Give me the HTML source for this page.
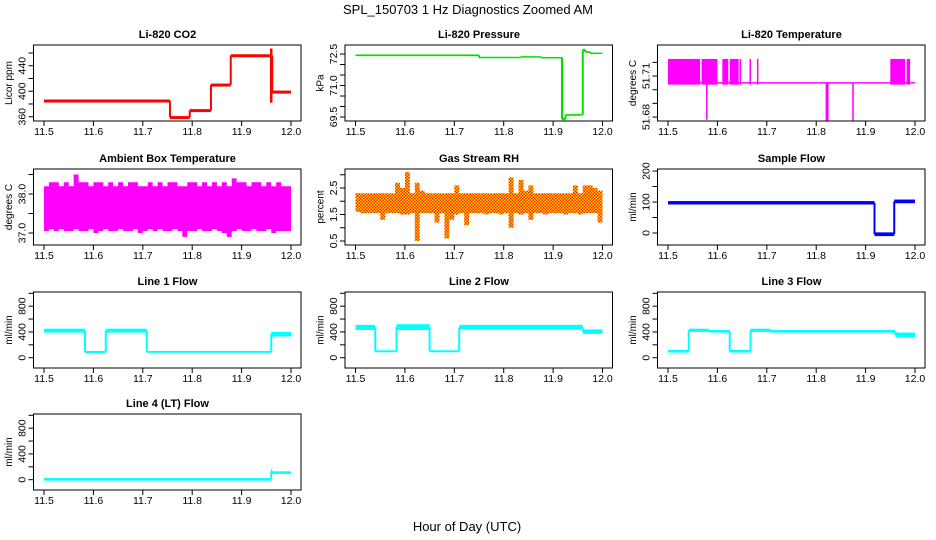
<!DOCTYPE html>
<html><head><meta charset="utf-8"><style>
html,body{margin:0;padding:0;background:#fff;}
svg{display:block;font-family:"Liberation Sans",sans-serif;}
</style></head><body>
<svg id="c" width="936" height="540" viewBox="0 0 936 540" xmlns="http://www.w3.org/2000/svg">
<defs>
<pattern id="rhpat" width="3" height="3" patternUnits="userSpaceOnUse">
<rect width="3" height="3" fill="#ffd800"/><rect x="0" y="0" width="1.5" height="1.5" fill="#ff2000"/><rect x="1.5" y="1.5" width="1.5" height="1.5" fill="#ff2000"/>
</pattern>
</defs>
<text x="468" y="14" text-anchor="middle" font-size="13">SPL_150703  1 Hz Diagnostics Zoomed AM</text>
<text x="467" y="531" text-anchor="middle" font-size="13">Hour of Day (UTC)</text>
</svg>
<script>
// ---- data arrays ----
const xTicks = [11.5, 11.6, 11.7, 11.8, 11.9, 12.0];
const xTickLabels = ["11.5", "11.6", "11.7", "11.8", "11.9", "12.0"];
const co2Start = [11.5, 11.755, 11.795, 11.838, 11.878, 11.962];
const co2End   = [11.755, 11.795, 11.838, 11.878, 11.96, 12.0];
const co2Lo    = [383, 357, 368, 408, 454, 397];
const co2Hi    = [387, 361, 372, 412, 458, 401];
const presStart = [11.5, 11.75, 11.835, 11.875, 11.918, 11.925, 11.96, 11.965, 11.975];
const presEnd   = [11.75, 11.835, 11.875, 11.918, 11.925, 11.958, 11.965, 11.975, 12.0];
const presLo    = [72.40, 72.31, 72.35, 72.30, 69.35, 69.56, 72.65, 72.56, 72.51];
const presHi    = [72.48, 72.37, 72.40, 72.36, 69.45, 69.64, 72.75, 72.64, 72.57];
const tempBase = 51.705;
const tempBandStart = [11.5, 11.568, 11.61, 11.625, 11.645, 11.665, 11.68, 11.95, 11.983];
const tempBandEnd   = [11.565, 11.6, 11.622, 11.643, 11.648, 11.667, 11.682, 11.98, 11.99];
const tempBandTop   = [51.7225, 51.7225, 51.7225, 51.7225, 51.7225, 51.7225, 51.7225, 51.7225, 51.7225];
const tempDipStart = [11.577, 11.819, 11.873];
const tempDipEnd   = [11.58, 11.825, 11.876];
const tempDipLow   = [51.678, 51.677, 51.677];
const ambHi = [38.2,38.3,38.3,38.2,38.3,38.2,38.5,38.3,38.3,38.2, 38.3,38.3,38.2,38.3,38.2,38.3,38.2,38.3,38.3,38.2, 38.2,38.3,38.2,38.3,38.2,38.3,38.3,38.2,38.2,38.3, 38.3,38.2,38.3,38.2,38.3,38.2,38.3,38.2,38.4,38.3, 38.3,38.2,38.3,38.3,38.2,38.3,38.2,38.3,38.2,38.2];
const ambLo = [37.05,37.1,37.05,37.1,37.05,37.05,37.1,37.05,37.05,37.1, 37.0,37.05,37.1,37.05,37.05,37.1,37.05,37.05,37.1,37.0, 37.05,37.1,37.05,37.1,37.05,37.05,37.1,37.05,36.9,37.05, 37.05,37.1,37.05,37.05,37.1,37.05,37.0,36.9,37.05,37.1, 37.05,37.05,37.1,37.05,37.05,37.1,37.0,37.05,37.05,37.05];
const rhHi = [2.3,2.3,2.3,2.3,2.3,2.3,2.3,2.3,2.7,2.5, 3.1,2.3,2.7,2.4,2.3,2.3,2.3,2.3,2.3,2.3, 2.6,2.3,2.3,2.3,2.3,2.3,2.3,2.3,2.3,2.3, 2.3,2.9,2.3,2.8,2.4,2.6,2.3,2.3,2.3,2.3, 2.3,2.3,2.3,2.3,2.6,2.3,2.6,2.6,2.5,2.4];
const rhLo = [1.6,1.55,1.55,1.55,1.55,1.3,1.55,1.55,1.55,1.5, 1.5,1.55,0.5,1.55,1.55,1.55,1.2,1.55,0.6,1.3, 1.5,1.55,1.1,1.55,1.55,1.55,1.5,1.55,1.55,1.5, 1.55,1.0,1.55,1.5,1.55,1.3,1.55,1.55,1.5,1.55, 1.55,1.55,1.5,1.55,1.55,1.5,1.55,1.55,1.55,1.2];
const sfStart = [11.5, 11.918, 11.958];
const sfEnd   = [11.918, 11.958, 12.0];
const sfLo    = [92, -10, 96];
const sfHi    = [103, 2, 108];
const l1Start = [11.5, 11.583, 11.625, 11.708, 11.96];
const l1End   = [11.583, 11.625, 11.708, 11.96, 12.0];
const l1Lo    = [390, 70, 390, 75, 330];
const l1Hi    = [450, 105, 450, 105, 400];
const l2Start = [11.5, 11.54, 11.583, 11.65, 11.71, 11.96];
const l2End   = [11.54, 11.583, 11.65, 11.71, 11.96, 12.0];
const l2Lo    = [430, 85, 430, 85, 440, 370];
const l2Hi    = [510, 115, 520, 115, 510, 440];
const l3Start = [11.5, 11.542, 11.583, 11.625, 11.667, 11.708, 11.96];
const l3End   = [11.542, 11.583, 11.625, 11.667, 11.708, 11.96, 12.0];
const l3Lo    = [80, 400, 390, 80, 400, 390, 320];
const l3Hi    = [120, 450, 430, 120, 450, 430, 390];
const l4Start = [11.5, 11.96, 11.962];
const l4End   = [11.96, 11.962, 12.0];
const l4Lo    = [-15, 90, 90];
const l4Hi    = [25, 170, 130];

// ---- layout ----
const NS = "http://www.w3.org/2000/svg";
const svg = document.getElementById("c");
const colX0 = [44, 355.5, 668];
const rowTop = [45, 169, 292, 414];
const XW = 247, BH = 76;
function mk(tag, attrs, parent) {
  const e = document.createElementNS(NS, tag);
  for (const k in attrs) e.setAttribute(k, attrs[k]);
  (parent || svg).appendChild(e);
  return e;
}
function panel(p) {
  const g = mk("g", {});
  
  
  const x0 = colX0[p.col], top = rowTop[p.row], bot = top + BH;
  const sx = v => x0 + (v - 11.5) / 0.5 * XW;
  const sy = v => bot - (v - p.dom[0]) / (p.dom[1] - p.dom[0]) * BH;
  const t = mk("text", {x: x0 + XW / 2, y: top - 7, "text-anchor": "middle", "font-size": "11", "font-weight": "bold"}, g);
  t.textContent = p.title;
  
  
  const yl = mk("text", {transform: `translate(${x0 - 32},${top + BH / 2}) rotate(-90)`, "text-anchor": "middle", "font-size": "10"}, g);
  yl.textContent = p.ylab;
  
  
  const plot = mk("g", {}, g);
  
  
  p.draw(plot, sx, sy);
  const box = mk("rect", {x: x0 - 10.5, y: top, width: XW + 20.5, height: BH, fill: "none", stroke: "#000", "stroke-width": "1"}, g);
  
  
  const xa = mk("g", {}, g);
  
  
  mk("line", {x1: sx(11.5), x2: sx(12), y1: bot, y2: bot, stroke: "#000"}, xa);
  xTicks.forEach((v, i) => {
    mk("line", {x1: sx(v), x2: sx(v), y1: bot, y2: bot + 5, stroke: "#000"}, xa);
    const tl = mk("text", {x: sx(v), y: bot + 14, "text-anchor": "middle", "font-size": "10.5"}, xa);
    tl.textContent = xTickLabels[i];
    
    
  });
  const ya = mk("g", {}, g);
  
  
  const xl = x0 - 10.5;
  mk("line", {x1: xl, x2: xl, y1: sy(p.ticks[0]), y2: sy(p.ticks[p.ticks.length - 1]), stroke: "#000"}, ya);
  p.ticks.forEach(v => mk("line", {x1: xl - 5, x2: xl, y1: sy(v), y2: sy(v), stroke: "#000"}, ya));
  p.labVals.forEach((v, i) => {
    const tl = mk("text", {transform: `translate(${xl - 8},${sy(v)}) rotate(-90)`, "text-anchor": "middle", "font-size": "10.5"}, ya);
    tl.textContent = p.labTxt[i];
    
    
  });
}
function steps(g, sx, sy, S, E, L, H, color, minH) {
  for (let i = 0; i < S.length; i++) {
    const r = mk("rect", {x: sx(S[i]), y: sy(H[i]), width: Math.max(1, sx(E[i]) - sx(S[i])), height: Math.max(minH || 1.5, sy(L[i]) - sy(H[i])), fill: color}, g);
    
    
    if (i > 0) {
      const a = (L[i - 1] + H[i - 1]) / 2, b = (L[i] + H[i]) / 2;
      const ln = mk("line", {x1: sx(S[i]), x2: sx(S[i]), y1: sy(a), y2: sy(b), stroke: color, "stroke-width": "2"}, g);
      
      
    }
  }
}
function band(g, sx, sy, hi, lo, fill) {
  const n = hi.length, w = 0.5 / n;
  let pts = [];
  for (let i = 0; i < n; i++) { pts.push([sx(11.5 + i * w), sy(hi[i])], [sx(11.5 + (i + 1) * w), sy(hi[i])]); }
  for (let i = n - 1; i >= 0; i--) { pts.push([sx(11.5 + (i + 1) * w), sy(lo[i])], [sx(11.5 + i * w), sy(lo[i])]); }
  const pg = mk("polygon", {points: pts.map(p => p.join(",")).join(" "), fill: fill}, g);
  
  
}
const flowTicks = [0, 200, 400, 600, 800, 1000];
const flowDom = [-160, 1020];
panel({name: "panel-co2", title: "Li-820 CO2", ylab: "Licor ppm", col: 0, row: 0, dom: [353.3, 472.5],
  ticks: [360, 380, 400, 420, 440, 460], labVals: [360, 400, 440], labTxt: ["360", "400", "440"],
  draw: (g, sx, sy) => { steps(g, sx, sy, co2Start, co2End, co2Lo, co2Hi, "#ff0000", 3);
    mk("line", {x1: sx(11.96), x2: sx(11.96), y1: sy(467), y2: sy(382), stroke: "#ff0000", "stroke-width": "2.5"}, g); }});
panel({name: "panel-pressure", title: "Li-820 Pressure", ylab: "kPa", col: 1, row: 0, dom: [69.31, 72.93],
  ticks: [69.5, 70.0, 70.5, 71.0, 71.5, 72.0, 72.5], labVals: [72.5, 71.0, 69.5], labTxt: ["72.5", "71.0", "69.5"],
  draw: (g, sx, sy) => steps(g, sx, sy, presStart, presEnd, presLo, presHi, "#00e000")});
panel({name: "panel-li820-temp", title: "Li-820 Temperature", ylab: "degrees C", col: 2, row: 0, dom: [51.6771, 51.7327],
  ticks: [51.68, 51.69, 51.70, 51.71, 51.72], labVals: [51.68, 51.71], labTxt: ["51.68", "51.71"],
  draw: (g, sx, sy) => {
    mk("line", {x1: sx(11.5), x2: sx(12), y1: sy(tempBase), y2: sy(tempBase), stroke: "#ff00ff", "stroke-width": "1.5"}, g);
    tempBandStart.forEach((s, i) => { const r = mk("rect", {x: sx(s), y: sy(tempBandTop[i]), width: Math.max(1.5, sx(tempBandEnd[i]) - sx(s)), height: sy(tempBase - 0.0013) - sy(tempBandTop[i]), fill: "#ff00ff"}, g);
        });
    tempDipStart.forEach((s, i) => { const r = mk("rect", {x: sx(s), y: sy(tempBase), width: Math.max(1.5, sx(tempDipEnd[i]) - sx(s)), height: sy(tempDipLow[i]) - sy(tempBase), fill: "#ff00ff"}, g);
        });
  }});
panel({name: "panel-ambient-temp", title: "Ambient Box Temperature", ylab: "degrees C", col: 0, row: 1, dom: [36.692, 38.641],
  ticks: [37.0, 37.5, 38.0, 38.5], labVals: [37.0, 38.0], labTxt: ["37.0", "38.0"],
  draw: (g, sx, sy) => band(g, sx, sy, ambHi, ambLo, "#ff00ff")});
panel({name: "panel-rh", title: "Gas Stream RH", ylab: "percent", col: 1, row: 1, dom: [0.349, 3.217],
  ticks: [0.5, 1.0, 1.5, 2.0, 2.5, 3.0], labVals: [0.5, 1.5, 2.5], labTxt: ["0.5", "1.5", "2.5"],
  draw: (g, sx, sy) => band(g, sx, sy, rhHi, rhLo, "url(#rhpat)")});
panel({name: "panel-sample-flow", title: "Sample Flow", ylab: "ml/min", col: 2, row: 1, dom: [-38.7, 206.5],
  ticks: [0, 50, 100, 150, 200], labVals: [0, 100, 200], labTxt: ["0", "100", "200"],
  draw: (g, sx, sy) => steps(g, sx, sy, sfStart, sfEnd, sfLo, sfHi, "#0000ff")});
panel({name: "panel-line1-flow", title: "Line 1 Flow", ylab: "ml/min", col: 0, row: 2, dom: flowDom,
  ticks: flowTicks, labVals: [0, 400, 800], labTxt: ["0", "400", "800"],
  draw: (g, sx, sy) => steps(g, sx, sy, l1Start, l1End, l1Lo, l1Hi, "#00ffff")});
panel({name: "panel-line2-flow", title: "Line 2 Flow", ylab: "ml/min", col: 1, row: 2, dom: flowDom,
  ticks: flowTicks, labVals: [0, 400, 800], labTxt: ["0", "400", "800"],
  draw: (g, sx, sy) => steps(g, sx, sy, l2Start, l2End, l2Lo, l2Hi, "#00ffff")});
panel({name: "panel-line3-flow", title: "Line 3 Flow", ylab: "ml/min", col: 2, row: 2, dom: flowDom,
  ticks: flowTicks, labVals: [0, 400, 800], labTxt: ["0", "400", "800"],
  draw: (g, sx, sy) => steps(g, sx, sy, l3Start, l3End, l3Lo, l3Hi, "#00ffff")});
panel({name: "panel-line4-flow", title: "Line 4 (LT) Flow", ylab: "ml/min", col: 0, row: 3, dom: flowDom,
  ticks: flowTicks, labVals: [0, 400, 800], labTxt: ["0", "400", "800"],
  draw: (g, sx, sy) => steps(g, sx, sy, l4Start, l4End, l4Lo, l4Hi, "#00ffff")});
</script>
</body></html>
